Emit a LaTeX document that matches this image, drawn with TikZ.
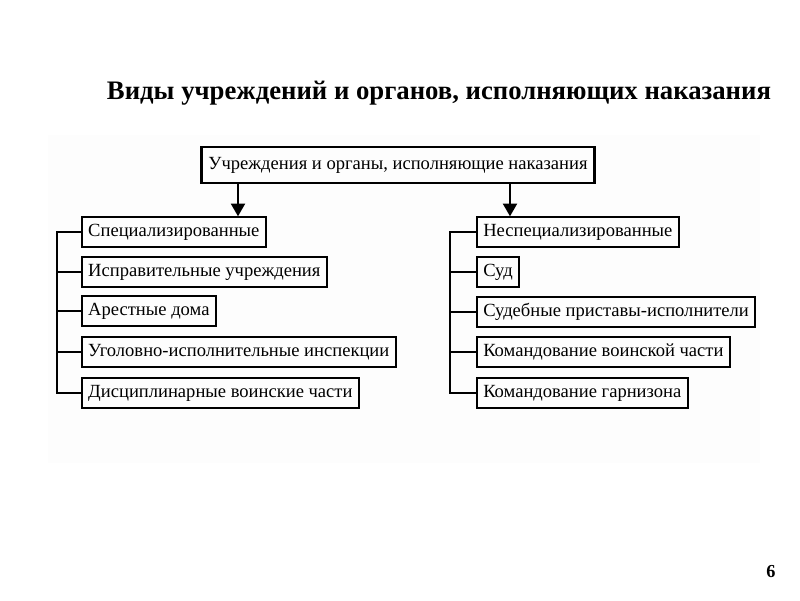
\documentclass[tikz,border=0pt]{standalone}
\usepackage{fontspec}
\setmainfont{Liberation Serif}
\usetikzlibrary{arrows.meta,positioning}

\tikzset{
  box/.style={draw, line width=1.3pt, anchor=west, inner xsep=4.5pt, inner ysep=0pt,
              minimum height=0.74cm, font=\fontsize{13.2}{15}\selectfont},
  topbox/.style={draw, line width=2pt, inner xsep=5pt, minimum height=0.9cm,
                 font=\fontsize{13.2}{15}\selectfont},
  link/.style={line width=1.3pt},
  arr/.style={line width=1.3pt, -{Triangle[width=10pt,length=9pt]}}
}

\begin{document}
\begin{tikzpicture}[x=0.025cm, y=-0.025cm]
\useasboundingbox (0,0) rectangle (800,600);
\fill[black!0.8] (48,135) rectangle (760,463);

\node[font=\bfseries\fontsize{19}{21}\selectfont] (title) at (439,93) {Виды учреждений и органов, исполняющих наказания};

\node[topbox] (root) at (398,165) {Учреждения и органы, исполняющие наказания};

% специализированные
\node[box] (spec) at (81,232) {Специализированные};
\node[box] (ispr) at (81,272) {Исправительные учреждения};
\node[box] (arest) at (81,311) {Арестные дома};
\node[box] (ugol) at (81,352) {Уголовно-исполнительные инспекции};
\node[box] (disc) at (81,393) {Дисциплинарные воинские части};

% неспециализированные
\node[box] (nespec) at (476,232) {Неспециализированные};
\node[box] (sud) at (476,272) {Суд};
\node[box] (prist) at (476,312) {Судебные приставы-исполнители};
\node[box] (vchast) at (476,352) {Командование воинской части};
\node[box] (garn) at (476,393) {Командование гарнизона};

\coordinate (la) at (238,0);
\coordinate (ra) at (510,0);
\coordinate (lbar) at (57,0);
\coordinate (rbar) at (450,0);

\draw[arr] (root.south -| la) -- (spec.north -| la);
\draw[arr] (root.south -| ra) -- (nespec.north -| ra);

\draw[link] (spec.west) -- (spec.west -| lbar) -- (disc.west -| lbar) -- (disc.west);
\draw[link] (ispr.west) -- (ispr.west -| lbar);
\draw[link] (arest.west) -- (arest.west -| lbar);
\draw[link] (ugol.west) -- (ugol.west -| lbar);

\draw[link] (nespec.west) -- (nespec.west -| rbar) -- (garn.west -| rbar) -- (garn.west);
\draw[link] (sud.west) -- (sud.west -| rbar);
\draw[link] (prist.west) -- (prist.west -| rbar);
\draw[link] (vchast.west) -- (vchast.west -| rbar);

\node[font=\bfseries\fontsize{13}{15}\selectfont] (pnum) at (771,572) {6};
\end{tikzpicture}
\end{document}
